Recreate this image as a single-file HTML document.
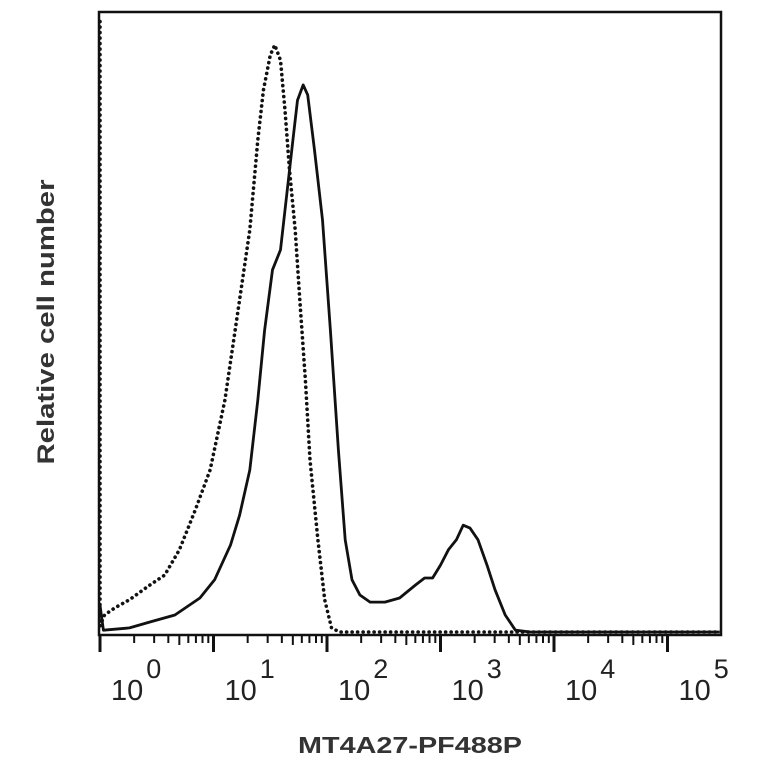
<!DOCTYPE html>
<html><head><meta charset="utf-8"><style>
body{margin:0;background:#fff}
svg{display:block}
text{font-family:"Liberation Sans",sans-serif;fill:#222}
</style></head><body>
<svg width="764" height="764" viewBox="0 0 764 764">
<rect x="99" y="12" width="622" height="623" fill="none" stroke="#111" stroke-width="2.5"/>
<g id="ticks"></g>
<g id="labels"></g>
<path id="dotted" fill="none" stroke="#111" stroke-width="3.6" stroke-dasharray="0.1 5.4" stroke-linecap="round"/>
<path id="solid" fill="none" stroke="#111" stroke-width="2.8" stroke-linejoin="round"/>
<text x="410" y="753" text-anchor="middle" font-size="23" font-weight="bold" textLength="224" lengthAdjust="spacingAndGlyphs" style="fill:#333">MT4A27-PF488P</text>
<text transform="translate(54,322) rotate(-90)" text-anchor="middle" font-size="24" font-weight="bold" textLength="285" lengthAdjust="spacingAndGlyphs" style="fill:#333">Relative cell number</text>
</svg>
<script>
const decadeExps = [0,1,2,3,4,5];
const dottedX = [0,0,0.04,0.13,0.26,0.44,0.57,0.70,0.84,0.97,1.10,1.23,1.32,1.39,1.44,1.50,1.54,1.59,1.63,1.67,1.72,1.76,1.81,1.85,1.92,1.98,2.04,2.11,5.46];
const dottedY = [104,1,2.9,4.1,5.5,8.0,9.7,14.0,20.8,27.6,39.5,56.6,68.5,83.8,92.3,98.3,100,97.4,88.9,78.7,68.5,56.6,42.9,29.3,15.7,5.5,0.7,0,0];
const solidX = [0,0.03,0.26,0.44,0.66,0.88,1.01,1.15,1.23,1.32,1.39,1.45,1.52,1.59,1.66,1.70,1.74,1.79,1.83,1.89,1.96,2.03,2.10,2.16,2.22,2.29,2.38,2.51,2.64,2.78,2.86,2.93,3.00,3.07,3.14,3.20,3.26,3.33,3.41,3.48,3.57,3.66,3.79,5.46];
const solidY = [4.6,0.3,0.7,1.7,2.9,5.8,8.9,14.8,19.9,27.6,39.5,51.4,61.7,65.1,77.0,83.8,90.6,93.2,91.5,82.1,70.2,51.4,31.0,15.7,8.9,6.3,5.1,5.1,5.8,8.0,9.2,9.2,11.4,14.0,15.7,18.2,17.7,15.7,11.4,7.2,2.9,0.3,0,0];
const NS='http://www.w3.org/2000/svg';
const xs = v => 100 + 113.5*v;
const ys = c => 632 - c*5.87;
function path(X,Y){return X.map((x,i)=>(i?'L':'M')+xs(x).toFixed(1)+','+ys(Y[i]).toFixed(1)).join('');}
document.getElementById('dotted').setAttribute('d',path(dottedX,dottedY));
document.getElementById('solid').setAttribute('d',path(solidX,solidY));
const tg=document.getElementById('ticks'), lg=document.getElementById('labels');
decadeExps.forEach(e=>{
  const mk=(x,len,w)=>{const l=document.createElementNS(NS,'line');
    l.setAttribute('x1',x);l.setAttribute('x2',x);l.setAttribute('y1',636);l.setAttribute('y2',636+len);
    l.setAttribute('stroke','#111');l.setAttribute('stroke-width',w);
    
    
    tg.appendChild(l);};
  mk(xs(e),16,3);
  if(e<5){for(let m=2;m<=9;m++){mk(xs(e+Math.log10(m)),m==5?9:7,2);}}
  const t=document.createElementNS(NS,'text');
  t.setAttribute('x',xs(e)+11);t.setAttribute('y',700);t.setAttribute('font-size','29');
  
  
  t.textContent='10';
  const s=document.createElementNS(NS,'tspan');s.setAttribute('dy','-22');s.setAttribute('dx','3');s.setAttribute('font-size','27');s.textContent=String(e);
  t.appendChild(s);lg.appendChild(t);
});
</script>
</body></html>
